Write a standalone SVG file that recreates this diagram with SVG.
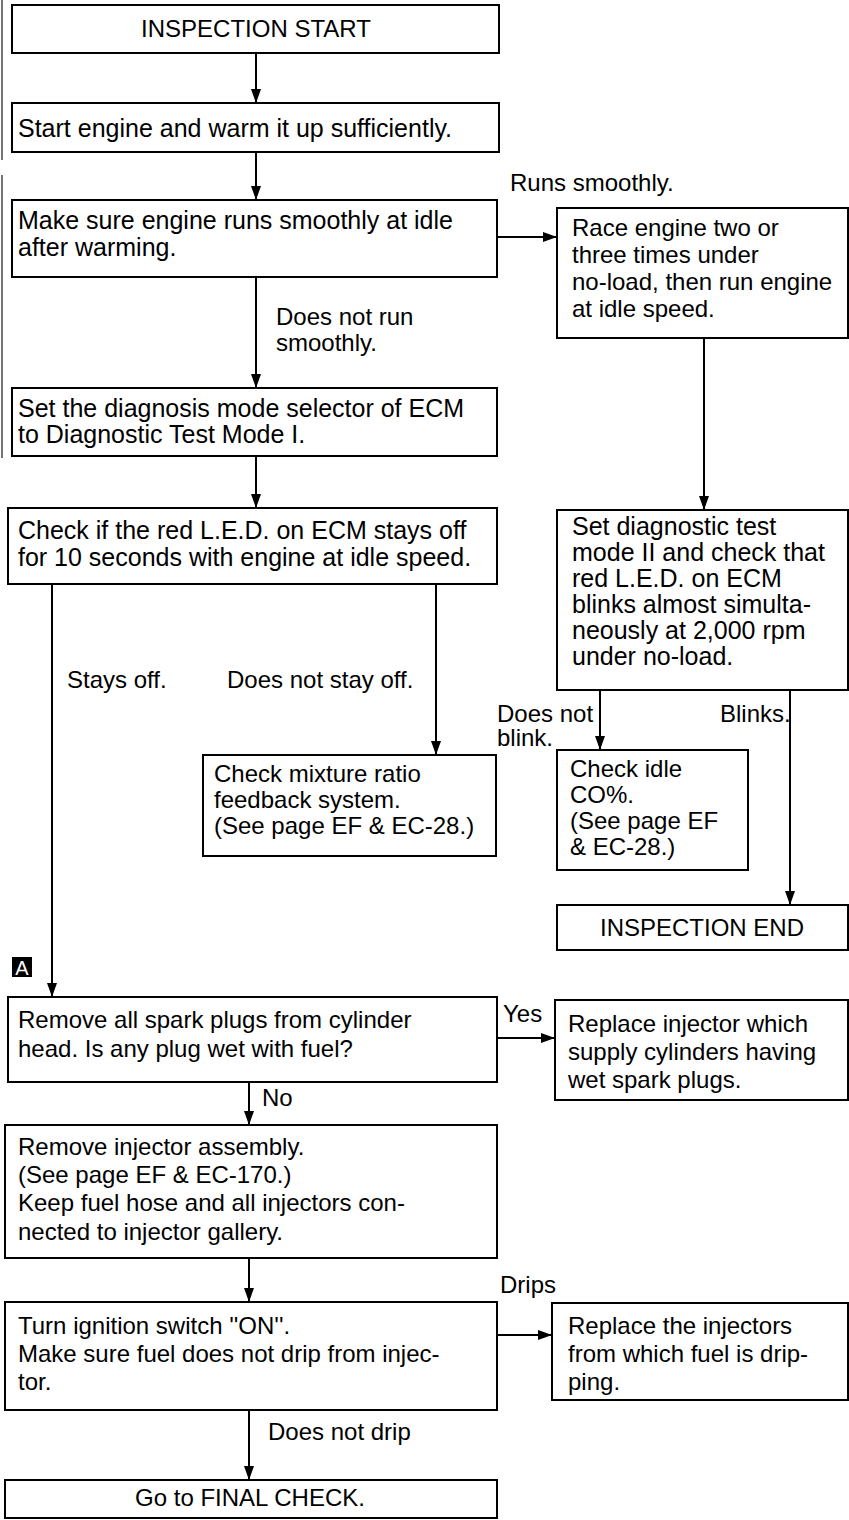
<svg xmlns="http://www.w3.org/2000/svg" width="849" height="1520" viewBox="0 0 849 1520">
<defs>
<marker id="ah" viewBox="0 0 14 10" refX="14" refY="5" markerWidth="14" markerHeight="10" markerUnits="userSpaceOnUse" orient="auto">
<path d="M0,0 L14,5 L0,10 Z" fill="#000"/>
</marker>
<style>
.box{fill:#fff;stroke:#000;stroke-width:2}
.t{font-family:"Liberation Sans",Arial,sans-serif;font-size:24px;fill:#000}
.b{font-size:25px}
.c{text-anchor:middle}
.arr{fill:none;stroke:#000;stroke-width:2;marker-end:url(#ah)}
.edge{stroke:#444;stroke-width:1.5;fill:none}
</style>
</defs>
<rect width="849" height="1520" fill="#fff"/>
<g id="margin">
<line class="edge" x1="2" y1="0" x2="2" y2="160"/>
<line class="edge" x1="2" y1="175" x2="2" y2="458"/>
</g>
<g id="connectors">
<line class="arr" x1="256" y1="53" x2="256" y2="103"/>
<line class="arr" x1="256" y1="152" x2="256" y2="200"/>
<line class="arr" x1="497" y1="237" x2="557" y2="237"/>
<text class="t" x="510" y="191">Runs smoothly.</text>
<line class="arr" x1="256" y1="277" x2="256" y2="388"/>
<text class="t" x="276" y="325">Does not run</text>
<text class="t" x="276" y="351">smoothly.</text>
<line class="arr" x1="704" y1="338" x2="704" y2="510"/>
<line class="arr" x1="256" y1="456" x2="256" y2="508"/>
<line class="arr" x1="52" y1="584" x2="52" y2="997"/>
<text class="t" x="67" y="688">Stays off.</text>
<line class="arr" x1="436" y1="584" x2="436" y2="755"/>
<text class="t" x="227" y="688">Does not stay off.</text>
<line class="arr" x1="600" y1="690" x2="600" y2="750"/>
<text class="t" x="497" y="722">Does not</text>
<text class="t" x="497" y="746">blink.</text>
<line class="arr" x1="790" y1="690" x2="790" y2="905"/>
<text class="t" x="720" y="722">Blinks.</text>
<line class="arr" x1="497" y1="1038" x2="555" y2="1038"/>
<text class="t" x="503" y="1022">Yes</text>
<line class="arr" x1="249" y1="1082" x2="249" y2="1125"/>
<text class="t" x="262" y="1106">No</text>
<line class="arr" x1="249" y1="1258" x2="249" y2="1302"/>
<text class="t" x="500" y="1293">Drips</text>
<line class="arr" x1="497" y1="1335" x2="552" y2="1335"/>
<line class="arr" x1="249" y1="1410" x2="249" y2="1480"/>
<text class="t" x="268" y="1440">Does not drip</text>
</g>
<g id="n_start">
<rect class="box" x="12" y="5" width="487" height="48"/>
<text class="t c" x="256" y="37">INSPECTION START</text>
</g>
<g id="n_warm">
<rect class="box" x="12" y="103" width="487" height="49"/>
<text class="t b" x="18" y="137">Start engine and warm it up sufficiently.</text>
</g>
<g id="n_smooth">
<rect class="box" x="12" y="200" width="485" height="77"/>
<text class="t b" x="18" y="229">Make sure engine runs smoothly at idle</text>
<text class="t b" x="18" y="256">after warming.</text>
</g>
<g id="n_race">
<rect class="box" x="557" y="208" width="291" height="130"/>
<text class="t" x="572" y="236">Race engine two or</text>
<text class="t" x="572" y="263">three times under</text>
<text class="t" x="572" y="290">no-load, then run engine</text>
<text class="t" x="572" y="317">at idle speed.</text>
</g>
<g id="n_mode1">
<rect class="box" x="12" y="388" width="485" height="68"/>
<text class="t b" x="18" y="417">Set the diagnosis mode selector of ECM</text>
<text class="t b" x="18" y="443">to Diagnostic Test Mode I.</text>
</g>
<g id="n_led">
<rect class="box" x="8" y="508" width="489" height="76"/>
<text class="t b" x="18" y="539">Check if the red L.E.D. on ECM stays off</text>
<text class="t b" x="18" y="566">for 10 seconds with engine at idle speed.</text>
</g>
<g id="n_mode2">
<rect class="box" x="557" y="510" width="291" height="180"/>
<text class="t b" x="572" y="535">Set diagnostic test</text>
<text class="t b" x="572" y="561">mode II and check that</text>
<text class="t b" x="572" y="587">red L.E.D. on ECM</text>
<text class="t b" x="572" y="613">blinks almost simulta-</text>
<text class="t b" x="572" y="639">neously at 2,000 rpm</text>
<text class="t b" x="572" y="665">under no-load.</text>
</g>
<g id="n_mixture">
<rect class="box" x="203" y="755" width="293" height="101"/>
<text class="t" x="214" y="782">Check mixture ratio</text>
<text class="t" x="214" y="808">feedback system.</text>
<text class="t" x="214" y="834">(See page EF &amp; EC-28.)</text>
</g>
<g id="n_co">
<rect class="box" x="557" y="750" width="191" height="120"/>
<text class="t" x="570" y="777">Check idle</text>
<text class="t" x="570" y="803">CO%.</text>
<text class="t" x="570" y="829">(See page EF</text>
<text class="t" x="570" y="855">&amp; EC-28.)</text>
</g>
<g id="n_end">
<rect class="box" x="557" y="905" width="291" height="45"/>
<text class="t c" x="702" y="936">INSPECTION END</text>
</g>
<g id="n_a">
<rect x="12" y="957" width="20" height="20" fill="#000"/>
<text class="t c" x="22" y="975" style="fill:#fff;font-size:20px">A</text>
</g>
<g id="n_plugs">
<rect class="box" x="8" y="997" width="489" height="85"/>
<text class="t" x="18" y="1028">Remove all spark plugs from cylinder</text>
<text class="t" x="18" y="1057">head. Is any plug wet with fuel?</text>
</g>
<g id="n_replace1">
<rect class="box" x="555" y="1000" width="293" height="100"/>
<text class="t" x="568" y="1032">Replace injector which</text>
<text class="t" x="568" y="1060">supply cylinders having</text>
<text class="t" x="568" y="1088">wet spark plugs.</text>
</g>
<g id="n_remove">
<rect class="box" x="5" y="1125" width="492" height="133"/>
<text class="t" x="18" y="1155">Remove injector assembly.</text>
<text class="t" x="18" y="1183">(See page EF &amp; EC-170.)</text>
<text class="t" x="18" y="1211">Keep fuel hose and all injectors con-</text>
<text class="t" x="18" y="1240">nected to injector gallery.</text>
</g>
<g id="n_ignition">
<rect class="box" x="5" y="1302" width="492" height="108"/>
<text class="t" x="18" y="1334">Turn ignition switch ''ON''.</text>
<text class="t" x="18" y="1362">Make sure fuel does not drip from injec-</text>
<text class="t" x="18" y="1390">tor.</text>
</g>
<g id="n_replace2">
<rect class="box" x="552" y="1303" width="296" height="97"/>
<text class="t" x="568" y="1334">Replace the injectors</text>
<text class="t" x="568" y="1362">from which fuel is drip-</text>
<text class="t" x="568" y="1390">ping.</text>
</g>
<g id="n_final">
<rect class="box" x="5" y="1480" width="492" height="38"/>
<text class="t c" x="250" y="1506">Go to FINAL CHECK.</text>
</g>
</svg>
